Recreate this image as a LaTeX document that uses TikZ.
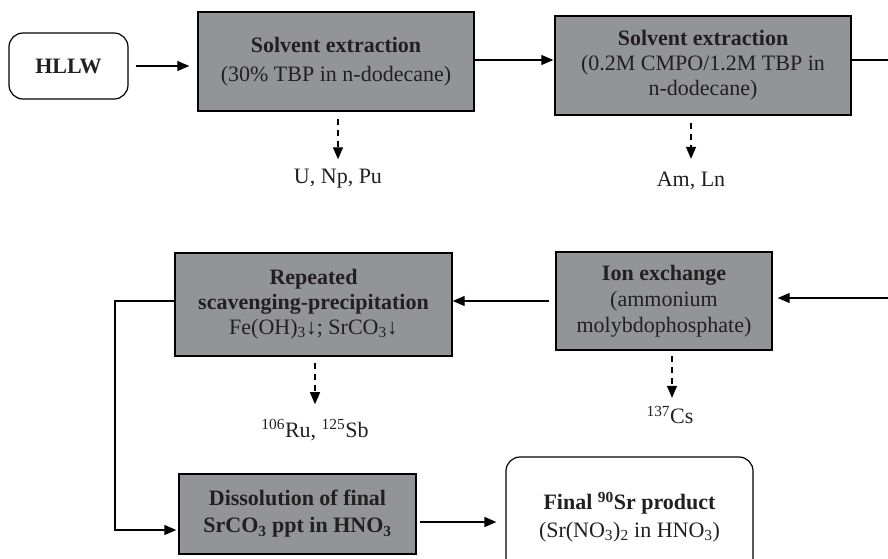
\documentclass[tikz,border=0pt]{standalone}
\usepackage{fontspec}
\setmainfont{Liberation Serif}
\usetikzlibrary{arrows.meta}
\definecolor{boxgray}{RGB}{147,148,151}
\definecolor{ink}{RGB}{35,31,32}
\begin{document}
\begin{tikzpicture}[x=1pt,y=-1pt,
  proc/.style={draw=black, line width=1.4pt, fill=boxgray, text=ink, align=center, inner sep=0pt},
  term/.style={draw=black, line width=1.2pt, rounded corners=14pt, fill=white, text=ink, align=center, inner sep=0pt},
  lbl/.style={text=ink, inner sep=0pt, font=\fontsize{22}{25}\selectfont},
  conn/.style={line width=1.3pt},
  flow/.style={conn, -{Triangle[length=12pt,width=10pt]}},
  side/.style={flow, dash pattern=on 6pt off 5pt},
]
\useasboundingbox (0,0) rectangle (888,558);

% boxes
\node[term, minimum width=119pt, minimum height=66pt, font=\fontsize{22}{25}\selectfont] (hllw) at (68.5,66) {\textbf{HLLW}};
\node[proc, minimum width=276pt, minimum height=99pt, font=\fontsize{22}{29}\selectfont] (se1) at (336,61.5)
  {\textbf{Solvent extraction}\\(30\% TBP in n-dodecane)};
\node[proc, minimum width=296pt, minimum height=99pt, font=\fontsize{22}{25}\selectfont] (se2) at (703,65.5)
  {\textbf{Solvent extraction}\\(0.2M CMPO/1.2M TBP in\\n-dodecane)};
\node[proc, minimum width=216pt, minimum height=98pt, font=\fontsize{22}{26}\selectfont] (ie) at (664,301)
  {\textbf{Ion exchange}\\(ammonium\\molybdophosphate)};
\node[proc, minimum width=277pt, minimum height=103pt, font=\fontsize{22}{25}\selectfont] (rsp) at (313.5,304.5)
  {\textbf{Repeated}\\\textbf{scavenging-precipitation}\\Fe(OH)\textsubscript{3}↓; SrCO\textsubscript{3}↓};
\node[proc, minimum width=237pt, minimum height=80pt, font=\fontsize{22}{27}\selectfont] (diss) at (297.5,514)
  {\textbf{Dissolution of final}\\\textbf{SrCO\textsubscript{3} ppt in HNO\textsubscript{3}}};
\node[term, minimum width=247pt, minimum height=120pt, font=\fontsize{22}{28}\selectfont] (final) at (629.5,517)
  {\textbf{Final \textsuperscript{90}Sr product}\\(Sr(NO\textsubscript{3})\textsubscript{2} in HNO\textsubscript{3})};

% side products
\node[lbl] (unppu) at (338,179) {U, Np, Pu};
\node[lbl] (amln) at (691,181) {Am, Ln};
\node[lbl] (cs) at (670,415) {\textsuperscript{137}Cs};
\node[lbl] (rusb) at (315,430) {\textsuperscript{106}Ru, \textsuperscript{125}Sb};

% helper coordinates
\coordinate (re1) at (888,60);
\coordinate (re2) at (888,298);
\coordinate (lp1) at (115,301);
\coordinate (lp2) at (115,530);
\coordinate (mid) at (460,522);
\coordinate (csx) at (672,0);

% main flow
\draw[flow, shorten <=7pt, shorten >=8pt] (hllw.east) -- (hllw.east -| se1.west);
\draw[flow, shorten >=1pt] (se1.east |- re1) -- (se2.west |- re1);
\draw[conn] (se2.east |- re1) -- (re1);
\draw[flow, shorten >=5pt] (re2) -- (ie.east |- re2);
\draw[flow, shorten <=6pt] (ie.west) -- (ie.west -| rsp.east);
\draw[flow, shorten >=2pt] (rsp.west |- lp1) -- (lp1) -- (lp2) -- (diss.west |- lp2);
\draw[flow, shorten <=3pt, shorten >=9pt] (diss.east |- mid) -- (final.west |- mid);

% side streams
\draw[side, shorten <=7pt, shorten >=10pt] (se1.south -| unppu) -- (unppu.north);
\draw[side, shorten <=7pt, shorten >=13pt] (se2.south -| amln) -- (amln.north);
\draw[side, shorten <=5pt, shorten >=8pt] (ie.south -| csx) -- (csx |- cs.north);
\draw[side, shorten <=6pt, shorten >=15pt] (rsp.south -| rusb) -- (rusb.north);
\end{tikzpicture}
\end{document}
